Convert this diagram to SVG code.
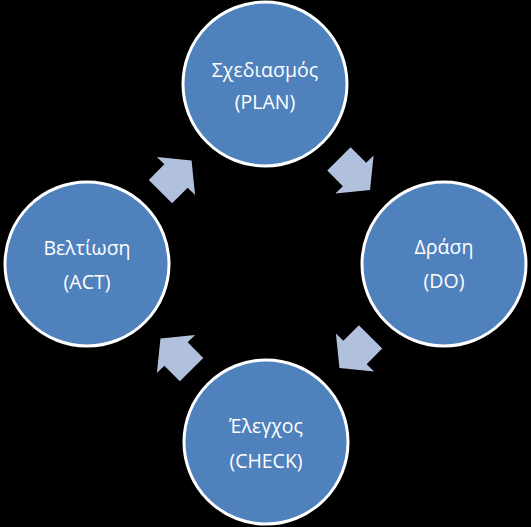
<svg xmlns="http://www.w3.org/2000/svg" width="531" height="527" viewBox="0 0 531 527">
<style>
.node{fill:#4F81BD;stroke:#FFFFFF;stroke-width:3}
.lbl{fill:#FFFFFF;font-family:"Open Sans","Noto Sans","DejaVu Sans",sans-serif;font-size:19.5px;text-anchor:middle}
.arr{fill:#B1C1DD}
</style>
<defs>
<path id="arrow" d="M-22,-16.5 L0,-16.5 L0,-27 L22,0 L0,27 L0,16.5 L-22,16.5 Z"/>
</defs>
<rect x="0" y="0" width="531" height="527" fill="#000000"/>
<g id="connectors">
<use href="#arrow" class="arr" transform="translate(354.5,174.5) rotate(45)"/>
<use href="#arrow" class="arr" transform="translate(355,352.5) rotate(135)"/>
<use href="#arrow" class="arr" transform="translate(176,354) rotate(225)"/>
<use href="#arrow" class="arr" transform="translate(176,176) rotate(-45)"/>
</g>
<g id="plan">
<circle class="node" cx="265" cy="84" r="82"/>
<text class="lbl" x="265" y="77">Σχεδιασμός</text>
<text class="lbl" x="265" y="109">(PLAN)</text>
</g>
<g id="do">
<circle class="node" cx="444" cy="264" r="82"/>
<text class="lbl" x="444" y="254">Δράση</text>
<text class="lbl" x="444" y="288">(DO)</text>
</g>
<g id="check">
<circle class="node" cx="266" cy="442" r="82"/>
<text class="lbl" x="266" y="433">Έλεγχος</text>
<text class="lbl" x="266" y="468">(CHECK)</text>
</g>
<g id="act">
<circle class="node" cx="87" cy="264" r="82"/>
<text class="lbl" x="87" y="255">Βελτίωση</text>
<text class="lbl" x="87" y="289">(ACT)</text>
</g>
</svg>
